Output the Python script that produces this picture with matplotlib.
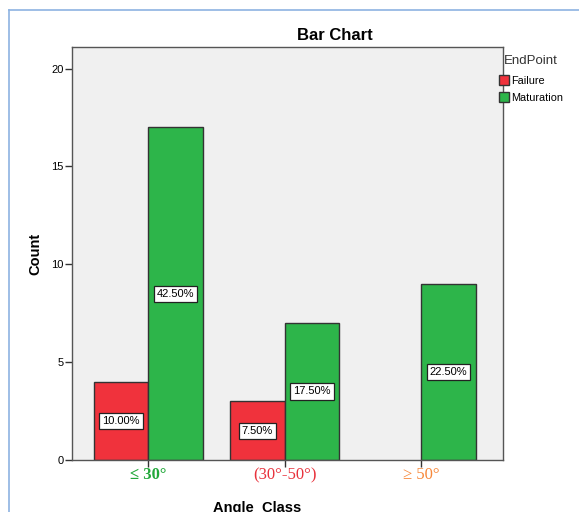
import matplotlib.pyplot as plt
import numpy as np
from matplotlib.lines import Line2D
from matplotlib.patches import Patch

plt.rcParams['font.family'] = ['Liberation Sans', 'DejaVu Sans']

# data
classes = ["\u2264 30\u00b0", "(30\u00b0-50\u00b0)", "\u2265 50\u00b0"]
class_colors = ["#22a83a", "#e8323c", "#f7883a"]
failure = [4, 3, 0]
maturation = [17, 7, 9]
failure_pct = ["10.00%", "7.50%", ""]
maturation_pct = ["42.50%", "17.50%", "22.50%"]

red = "#f0323c"
green = "#2db54a"

fig = plt.figure(figsize=(5.79, 5.12), dpi=100)
ax = fig.add_axes([0.124, 0.1016, 0.745, 0.8064])
ax.set_facecolor("#f0f0f0")

x = np.arange(len(classes))
w = 0.4
for i in range(len(classes)):
    if failure[i] > 0:
        ax.bar(x[i] - w / 2, failure[i], w, color=red, edgecolor="#333333", linewidth=1)
    if maturation[i] > 0:
        ax.bar(x[i] + w / 2, maturation[i], w, color=green, edgecolor="#333333", linewidth=1)

box = dict(boxstyle="square,pad=0.28", facecolor="white", edgecolor="#222222", linewidth=0.9)
for i in range(len(classes)):
    if failure_pct[i]:
        ax.text(x[i] - w / 2, failure[i] / 2, failure_pct[i], ha="center", va="center",
                fontsize=8, bbox=box)
    if maturation_pct[i]:
        ax.text(x[i] + w / 2, maturation[i] / 2, maturation_pct[i], ha="center", va="center",
                fontsize=8, bbox=box)

ax.set_xlim(-0.56, 2.6)
ax.set_ylim(0, 21.1)
ax.set_yticks([0, 5, 10, 15, 20])
ax.set_xticks(x)
ax.set_xticklabels(classes, family="Liberation Serif", fontsize=12)
for lbl, c in zip(ax.get_xticklabels(), class_colors):
    lbl.set_color(c)
ax.get_xticklabels()[0].set_fontweight("bold")
ax.tick_params(axis="y", labelsize=8, length=5, width=1, color="#333333", pad=1)
ax.tick_params(axis="x", length=5, width=1, color="#333333", pad=0)
for s in ax.spines.values():
    s.set_color("#555555")
    s.set_linewidth(1)

ax.set_ylabel("Count", fontweight="bold", fontsize=10.5, labelpad=6)
# title and x label sit off-centre in the original
fig.text(335 / 579, 1 - 35 / 512, "Bar Chart", fontweight="bold", fontsize=12,
         ha="center", va="center")
fig.text(257 / 579, 1 - 501 / 512, "Angle  Class", fontweight="bold", fontsize=10.5,
         ha="center", va="top")

# legend
fig.text(504 / 579, 1 - 61 / 512, "EndPoint", fontsize=9.5, color="#333333",
         ha="left", va="center")
handles = [Patch(facecolor=red, edgecolor="#333333"), Patch(facecolor=green, edgecolor="#333333")]
fig.legend(handles, ["Failure", "Maturation"], loc="upper left",
           bbox_to_anchor=(499 / 579, 1 - 75 / 512), frameon=False, fontsize=7.8,
           handlelength=0.9, handleheight=1.0, handletextpad=0.2,
           labelspacing=0.6, borderpad=0, borderaxespad=0)

# blue frame around the chart
frame_color = "#8db3e2"
fig.add_artist(Line2D([0.0155, 0.0155], [0.0, 0.981], color=frame_color, lw=1.2))
fig.add_artist(Line2D([0.0155, 1.0], [0.981, 0.981], color=frame_color, lw=1.2))

fig.savefig("out.png", dpi=100)
